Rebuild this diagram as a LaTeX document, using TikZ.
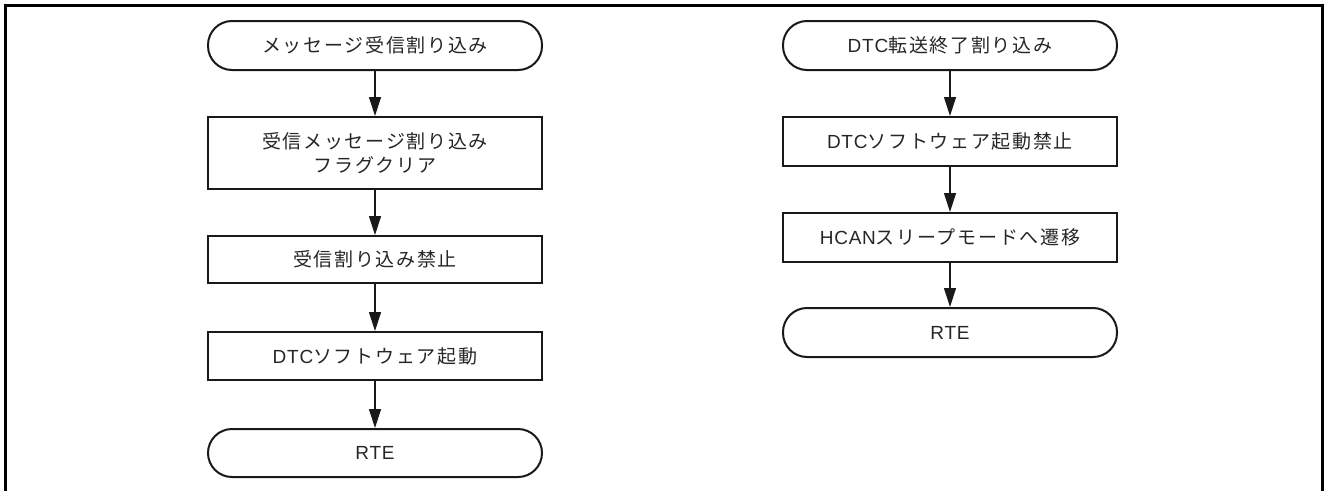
\documentclass[tikz,border=0pt]{standalone}
\usepackage{fontspec}
\setmainfont{Liberation Sans}[LetterSpace=4]
\newfontfamily\jp{Noto Sans CJK JP}[LetterSpace=9]
\usetikzlibrary{arrows.meta}
\tikzset{
  box/.style={draw=black!90, line width=2pt, minimum width=334pt, inner sep=0pt,
    font=\fontsize{19}{23.5}\selectfont, align=center, text=black!85},
  term/.style={box, rounded corners=24pt, minimum height=49pt},
  proc/.style={box, minimum height=48pt},
  arr/.style={line width=1.2pt, draw=black!90, -{Triangle[length=19pt,width=12pt]}}
}
\begin{document}
\begin{tikzpicture}[x=1pt,y=-1pt]
\useasboundingbox (0,0) rectangle (1324,490);
\draw[line width=2.6pt] (5.3,492) -- (5.3,5.3) -- (1322.7,5.3) -- (1322.7,492);
% left column
\node[term] (l1) at (375,45.5) {\jp メッセージ受信割り込み};
\node[proc, minimum height=72pt] (l2) at (375,153) {\jp 受信メッセージ割り込み\\\jp フラグクリア};
\node[proc, minimum height=47pt] (l3) at (375,259.5) {\jp 受信割り込み禁止};
\node[proc] (l4) at (375,356) {DTC{\jp ソフトウェア起動}};
\node[term, minimum height=48pt] (l5) at (375,453) {RTE};
\draw[arr] (l1) -- (l2);
\draw[arr] (l2) -- (l3);
\draw[arr] (l3) -- (l4);
\draw[arr] (l4) -- (l5);
% right column
\node[term] (r1) at (950,45.5) {DTC{\jp 転送終了割り込み}};
\node[proc, minimum height=49pt] (r2) at (950,141.5) {DTC{\jp ソフトウェア起動禁止}};
\node[proc, minimum height=49pt] (r3) at (950,237.5) {HCAN{\jp スリープモードへ遷移}};
\node[term] (r4) at (950,332.5) {RTE};
\draw[arr] (r1) -- (r2);
\draw[arr] (r2) -- (r3);
\draw[arr] (r3) -- (r4);
\end{tikzpicture}
\end{document}
